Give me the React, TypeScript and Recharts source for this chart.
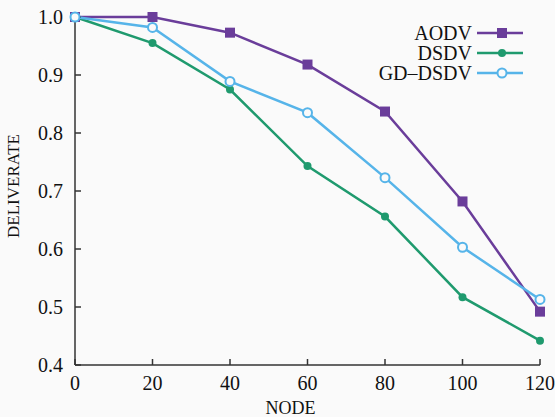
import { LineChart, Line, XAxis, YAxis, Legend } from "recharts";

const nodes = [0, 20, 40, 60, 80, 100, 120];
const aodv = [1.0, 1.0, 0.973, 0.918, 0.837, 0.682, 0.492];
const dsdv = [1.0, 0.955, 0.875, 0.743, 0.656, 0.517, 0.442];
const gdDsdv = [1.0, 0.982, 0.889, 0.835, 0.723, 0.603, 0.513];

const xTicks = [0, 20, 40, 60, 80, 100, 120];
const yTicks = [0.4, 0.5, 0.6, 0.7, 0.8, 0.9, 1.0];

const PURPLE = "#6a3d9a";
const GREEN = "#1f9a6e";
const BLUE = "#56b4e9";
const AXIS = "#333";
const FONT = "'Liberation Serif', 'Times New Roman', serif";

const data = nodes.map((n, i) => ({
  node: n,
  aodv: aodv[i],
  dsdv: dsdv[i],
  gd: gdDsdv[i],
}));

const SquareDot = (props: any) => {
  const { cx, cy } = props;
  if (cx == null || cy == null) return null;
  return <rect x={cx - 5} y={cy - 5} width={10} height={10} fill={PURPLE} />;
};

const legendItems = [
  { name: "AODV", color: PURPLE, kind: "square" },
  { name: "DSDV", color: GREEN, kind: "dot" },
  { name: "GD–DSDV", color: BLUE, kind: "ring" },
];

function LegendBox() {
  return (
    <svg width={240} height={70} style={{ display: "block" }}>
      {legendItems.map((it, i) => {
        const y = 13 + i * 20;
        return (
          <g key={it.name}>
            <text
              x={172}
              y={y}
              textAnchor="end"
              dominantBaseline="central"
              fontFamily={FONT}
              fontSize={20}
              fill="#111"
            >
              {it.name}
            </text>
            <line x1={177} x2={223} y1={y} y2={y} stroke={it.color} strokeWidth={2.5} />
            {it.kind === "square" && (
              <rect x={197} y={y - 5} width={10} height={10} fill={it.color} />
            )}
            {it.kind === "dot" && <circle cx={202} cy={y} r={4} fill={it.color} />}
            {it.kind === "ring" && (
              <circle cx={202} cy={y} r={4.5} fill="#fafafa" stroke={it.color} strokeWidth={2} />
            )}
          </g>
        );
      })}
    </svg>
  );
}

const tickStyle = { fontFamily: FONT, fontSize: 20, fill: "#111" };

export default function App() {
  return (
    <div
      style={{
        position: "absolute",
        left: 0,
        top: 0,
        width: 555,
        height: 417,
        background: "#fafafa",
      }}
    >
      <LineChart
        width={555}
        height={417}
        data={data}
        margin={{ top: 17, right: 15, left: 0, bottom: 0 }}
      >
        <XAxis
          dataKey="node"
          type="number"
          domain={[0, 120]}
          ticks={xTicks}
          height={52}
          stroke={AXIS}
          strokeWidth={1.5}
          tickSize={-6}
          tickMargin={17}
          tick={tickStyle}
          label={{
            content: ({ viewBox }: any) => (
              <text
                x={viewBox.x + viewBox.width / 2 - 17}
                y={viewBox.y + viewBox.height - 3}
                textAnchor="middle"
                fontFamily={FONT}
                fontSize={18}
                fill="#111"
              >
                NODE
              </text>
            ),
          }}
        />
        <XAxis
          xAxisId="top"
          orientation="top"
          type="number"
          domain={[0, 120]}
          ticks={xTicks}
          height={0}
          stroke={AXIS}
          strokeWidth={1.5}
          tickSize={-6}
          tickFormatter={() => ""}
        />
        <YAxis
          type="number"
          domain={[0.4, 1.0]}
          ticks={yTicks}
          width={75}
          stroke={AXIS}
          strokeWidth={1.5}
          tickSize={-6}
          tickMargin={18}
          tick={tickStyle}
          tickFormatter={(v: number) => v.toFixed(1)}
          label={{
            content: ({ viewBox }: any) => {
              const x = viewBox.x + 13;
              const y = viewBox.y + viewBox.height / 2 - 5;
              return (
                <text
                  x={x}
                  y={y}
                  transform={`rotate(-90 ${x} ${y})`}
                  textAnchor="middle"
                  dominantBaseline="central"
                  fontFamily={FONT}
                  fontSize={17}
                  fill="#111"
                >
                  DELIVERATE
                </text>
              );
            },
          }}
        />
        <YAxis
          yAxisId="right"
          orientation="right"
          type="number"
          domain={[0.4, 1.0]}
          ticks={yTicks}
          width={0}
          stroke={AXIS}
          strokeWidth={1.5}
          tickSize={-6}
          tickFormatter={() => ""}
        />
        <Legend
          layout="vertical"
          align="center"
          verticalAlign="middle"
          wrapperStyle={{ position: "absolute", top: 20, left: 300, width: 240 }}
          content={() => <LegendBox />}
        />
        <Line
          dataKey="aodv"
          stroke={PURPLE}
          strokeWidth={2.5}
          dot={<SquareDot />}
          isAnimationActive={false}
        />
        <Line
          dataKey="dsdv"
          stroke={GREEN}
          strokeWidth={2.5}
          dot={{ r: 4, fill: GREEN, stroke: GREEN, strokeWidth: 0 }}
          isAnimationActive={false}
        />
        <Line
          dataKey="gd"
          stroke={BLUE}
          strokeWidth={2.5}
          dot={{ r: 4.5, fill: "#fafafa", stroke: BLUE, strokeWidth: 2 }}
          isAnimationActive={false}
        />
      </LineChart>
    </div>
  );
}
